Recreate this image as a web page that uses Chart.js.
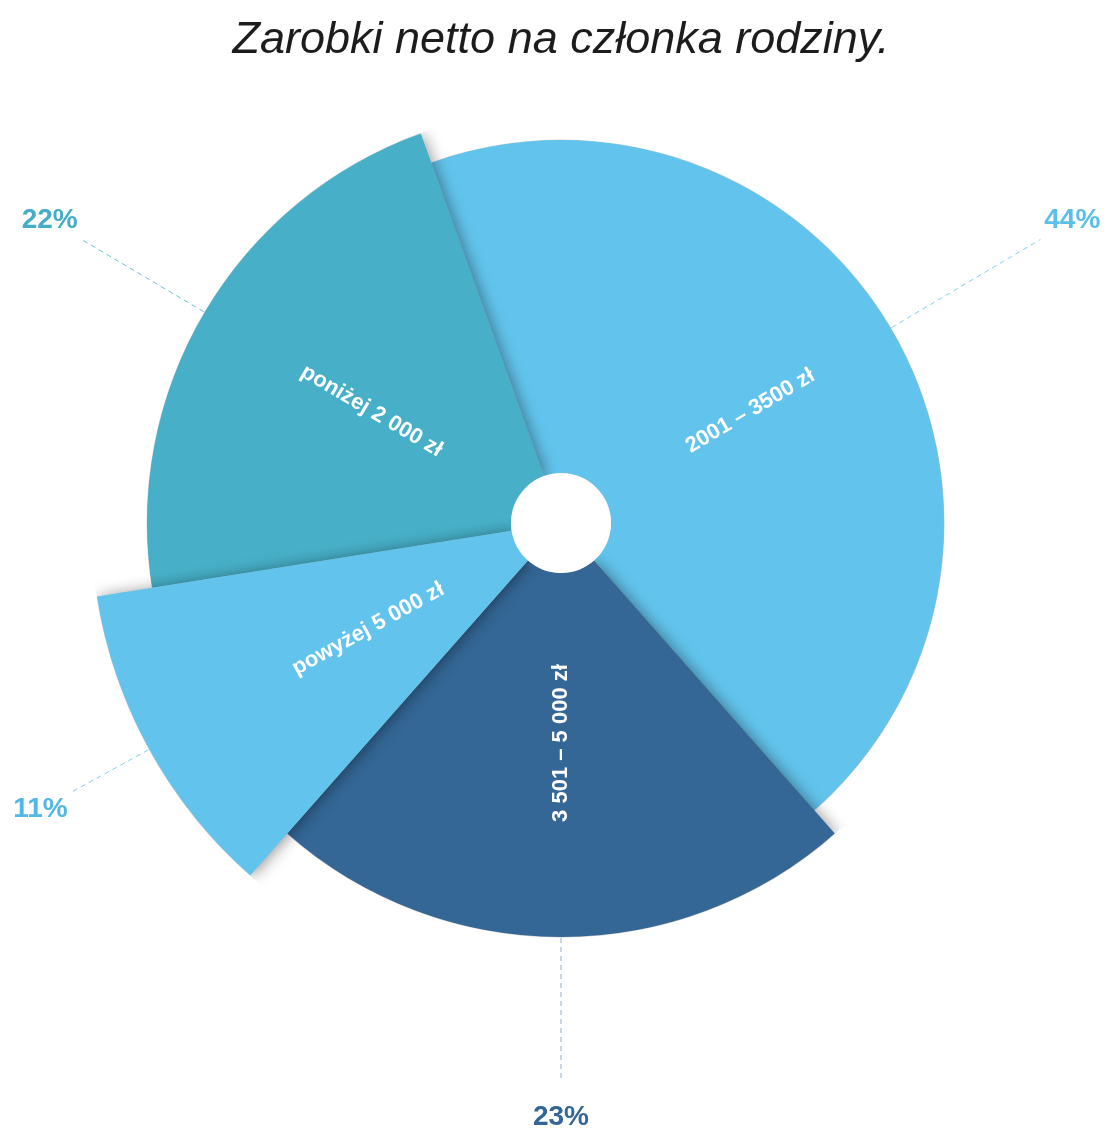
<!DOCTYPE html>
<html lang="pl">
<head>
    <meta charset="UTF-8">
    <title>Zarobki netto na członka rodziny</title>
    <script src="https://cdn.jsdelivr.net/npm/chart.js@4.4.1/dist/chart.umd.min.js"></script>
    <style>
        body { margin: 0; background: #fff; }
        #wrap { position: relative; width: 1116px; height: 1131px; }
    </style>
</head>
<body>
<div id="wrap"><canvas id="myChart"></canvas></div>

<script>
// dane
var categories = ['2001 – 3500 zł', '3 501 – 5 000 zł', 'powyżej 5 000 zł', 'poniżej 2 000 zł'];
var shares = [44, 23, 11, 22];
var shareLabels = ['44%', '23%', '11%', '22%'];

// wygląd
var sliceColors = ['#62c4ec', '#346796', '#62c4ec', '#47b0c8'];
var labelColors = ['#5cbfe9', '#346796', '#4fb8e6', '#45adc7'];
var leaderColors = ['rgba(98,196,236,0.8)', 'rgba(52,103,150,0.55)', 'rgba(98,196,236,0.8)', 'rgba(71,176,200,0.8)'];
var radiusScale = [0.925, 1, 1.135, 1];
var drawOrder = [0, 1, 3, 2];
var fontFamily = '"Liberation Sans", Arial, Helvetica, sans-serif';

var pieDecor = {
    id: 'pieDecor',
    afterDatasetUpdate: function(chart, args) {
        args.meta.data.forEach(function(arc, i) {
            arc.outerRadius = arc.outerRadius * radiusScale[i];
        });
    },
    beforeDatasetDraw: function(chart, args) {
        var ctx = chart.ctx;
        var arcs = args.meta.data;
        drawOrder.forEach(function(i) {
            var arc = arcs[i];
            ctx.save();
            // cień tylko na krawędziach promieniowych
            ctx.beginPath();
            ctx.arc(arc.x, arc.y, arc.outerRadius + 0.5, 0, Math.PI * 2);
            ctx.clip();
            ctx.shadowColor = 'rgba(0,0,0,0.42)';
            ctx.shadowBlur = 15;
            ctx.shadowOffsetX = 2;
            ctx.shadowOffsetY = 1;
            arc.draw(ctx);
            ctx.restore();
        });
        var a0 = arcs[0];
        ctx.save();
        ctx.fillStyle = '#fff';
        ctx.beginPath();
        ctx.arc(a0.x, a0.y, a0.innerRadius, 0, Math.PI * 2);
        ctx.fill();
        ctx.restore();
        return false;
    },
    afterDatasetsDraw: function(chart) {
        var ctx = chart.ctx;
        var arcs = chart.getDatasetMeta(0).data;
        arcs.forEach(function(arc, i) {
            var mid = (arc.startAngle + arc.endAngle) / 2;
            var cos = Math.cos(mid), sin = Math.sin(mid);

            // napis w wycinku (prawie pionowy czytany od dołu)
            ctx.save();
            ctx.translate(arc.x + cos * 220, arc.y + sin * 220);
            var rot = mid;
            if (cos < 0.1) rot += Math.PI;
            ctx.rotate(rot);
            ctx.fillStyle = '#fff';
            ctx.font = 'bold 22px ' + fontFamily;
            ctx.textAlign = 'center';
            ctx.textBaseline = 'middle';
            ctx.fillText(categories[i], 0, 0);
            ctx.restore();

            // linia odniesienia
            ctx.save();
            ctx.strokeStyle = leaderColors[i];
            ctx.lineWidth = 1;
            ctx.setLineDash([5, 4]);
            ctx.beginPath();
            ctx.moveTo(arc.x + cos * (arc.outerRadius + 1), arc.y + sin * (arc.outerRadius + 1));
            ctx.lineTo(arc.x + cos * 557, arc.y + sin * 557);
            ctx.stroke();
            ctx.restore();

            // procent
            ctx.save();
            ctx.fillStyle = labelColors[i];
            ctx.font = 'bold 28px ' + fontFamily;
            ctx.textAlign = 'center';
            ctx.textBaseline = 'middle';
            ctx.fillText(shareLabels[i], arc.x + cos * 594, arc.y + sin * 594);
            ctx.restore();
        });
    }
};

var ctx = document.getElementById('myChart').getContext('2d');
var myChart = new Chart(ctx, {
    type: 'doughnut',
    data: {
        labels: categories,
        datasets: [{
            data: shares,
            backgroundColor: sliceColors,
            borderWidth: 0
        }]
    },
    options: {
        responsive: true,
        maintainAspectRatio: false,
        animation: false,
        cutout: 50,
        rotation: -19.8,
        layout: {
            padding: { left: 6, right: 0, top: 0, bottom: 194 }
        },
        plugins: {
            legend: { display: false },
            tooltip: { enabled: false },
            title: {
                display: true,
                text: 'Zarobki netto na członka rodziny.',
                color: '#1c1c1c',
                font: { family: fontFamily, size: 45, style: 'italic', weight: 'normal' },
                padding: { top: 13, bottom: 42 }
            }
        }
    },
    plugins: [pieDecor]
});
</script>
</body>
</html>
